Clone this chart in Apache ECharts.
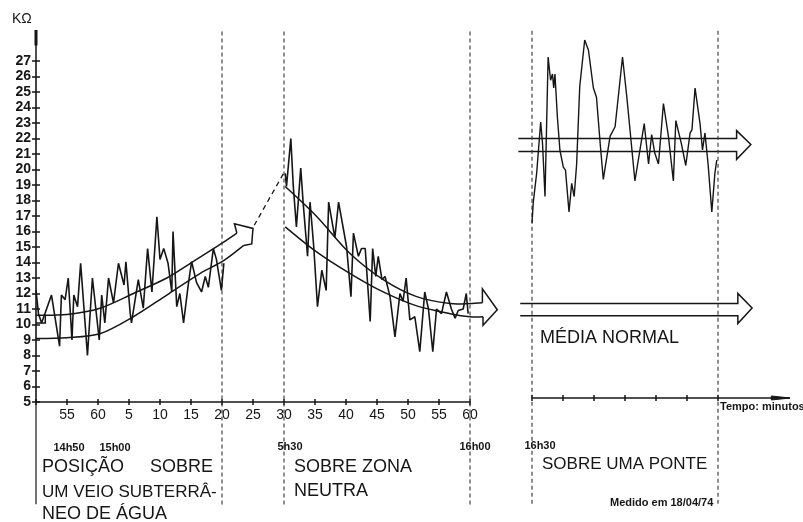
<!DOCTYPE html>
<html><head><meta charset="utf-8">
<script src="https://cdn.jsdelivr.net/npm/echarts@6/dist/echarts.min.js"></script>
<style>html,body{margin:0;padding:0;background:#fff}#c{width:803px;height:522px}</style>
</head><body><div id="c"></div>
<script>
// ---------- DATA ----------
// left axis: minutes after 14h50 ; tick labels every 5 minutes
const xTickLabels = ['', '55', '60', '5', '10', '15', '20', '25', '30', '35', '40', '45', '50', '55', '60'];
// Panel 1 : over an underground water vein (14h50 - 15h20)
const veinTime = [0,0.4,0.9,2.5,3.8,4.1,4.7,5.2,5.8,6.1,6.7,7.2,8.3,9.1,10.2,10.6,11.1,11.7,12.5,13.3,14.2,14.5,15.2,15.4,16.5,17.3,18.0,18.7,19.5,20.0,20.6,21.3,21.9,22.1,22.7,23.2,23.8,24.6,25.1,25.9,26.7,27.3,27.8,28.6,29.1,29.9,30.3];
const veinKohm = [12.2,10.7,10.1,11.9,8.6,11.9,11.6,13.0,9.0,11.9,11.15,13.95,8.0,13.0,9.0,11.9,10.1,13.0,11.4,13.95,12.55,14.05,10.7,10.1,12.9,11.05,14.9,12.1,16.95,14.2,14.9,13.95,12.1,16.0,11.15,12.0,10.1,12.7,14.05,12.7,12.1,13.1,12.4,14.9,14.2,12.2,13.95];
const veinUpperT = [0,5,10.3,15.7,21.1,24.9,30.2,32.4];
const veinUpperV = [10.6,10.65,11.05,12.0,13.0,13.95,15.3,15.9];
const veinLowerT = [0,5,10.3,15.7,21.1,26.5,30.2,33.5];
const veinLowerV = [9.1,9.15,9.4,10.5,11.9,13.3,14.1,15.1];
const veinHeadT = [32.4,32.0,35.0,34.8,33.5];
const veinHeadV = [15.9,16.5,16.2,15.2,15.1];
const veinTailT = [0,1.5,1.5];
const veinTailV = [10.1,10.1,10.65];
const linkT = [35.2,40.0];
const linkV = [16.4,19.8];
// Panel 2 : neutral zone (15h30 - 16h00)
const neutralTime = [40.2,40.4,41.1,41.5,42.0,42.7,43.1,43.8,44.2,44.8,45.4,46.1,46.8,47.2,48.2,48.8,49.1,50.1,50.8,51.2,52.0,52.5,53.1,53.9,54.3,54.8,55.2,55.8,56.3,57.1,57.9,58.7,59.2,59.7,60.3,61.1,61.9,62.7,63.3,64.0,64.6,65.4,66.2,67.0,67.6,68.1,68.9,69.4,69.7];
const neutralKohm = [19.75,18.9,22.0,18.9,16.3,20.1,17.8,14.4,17.9,15.0,11.15,13.5,12.2,17.9,15.6,17.9,17.9,15.0,11.8,15.9,14.4,14.9,14.9,10.2,14.9,13.1,14.4,12.9,13.1,11.8,9.2,12.0,11.5,13.0,10.3,10.5,8.25,12.1,11.0,8.25,11.0,10.7,12.1,11.0,10.4,10.9,11.0,12.0,10.7];
const neutralUpperT = [40.2,45.2,50.6,56.0,61.4,66.8,70.0,72.0];
const neutralUpperV = [18.9,17.0,14.6,12.9,11.8,11.35,11.35,11.4];
const neutralLowerT = [40.2,45.2,50.6,56.0,61.4,66.8,70.0,72.1];
const neutralLowerV = [16.3,14.7,13.3,12.1,11.2,10.7,10.5,10.5];
const neutralHeadT = [72.0,72.0,74.4,72.1,72.1];
const neutralHeadV = [11.4,12.3,10.95,9.95,10.5];
// Panel 3 : over a bridge (from 16h30), minutes after 16h30
const bridgeTime = [0,0.2,0.75,1.4,1.7,2.1,2.6,3.0,3.3,3.5,3.7,4.1,4.5,5.05,5.4,5.97,6.4,6.8,7.2,7.7,8.5,9.1,9.9,10.4,11.0,11.5,12.6,13.4,14.6,15.3,16.6,18.1,18.8,19.3,19.8,20.4,21.2,22.0,22.8,23.2,24.1,24.8,25.5,25.8,26.3,27.1,27.5,27.9,28.4,29.0,29.5,29.8];
const bridgeKohm = [16.3,17.6,19.5,22.8,21.4,18.0,27.0,25.5,25.9,25.0,25.9,23.1,21.0,19.9,19.7,17.0,18.85,18.0,20.1,25.1,28.1,27.45,25.0,24.4,21.4,19.1,21.9,22.5,27.0,24.4,19.0,22.7,20.1,22.0,20.8,20.1,24.0,21.9,19.0,22.9,21.4,20.0,22.1,22.3,25.0,22.7,21.0,22.1,20.1,17.0,19.5,20.35];
const bridgeArrowT = [-2.2,33.0,33.0,35.3,33.0,33.0,-2.2];
const bridgeArrowV = [21.75,21.75,22.25,21.35,20.4,20.9,20.9];
const normalArrowT = [-1.9,33.2,33.2,35.5,33.2,33.2,-1.9];
const normalArrowV = [11.1,11.1,11.75,10.8,9.8,10.3,10.3];
// dividers (minutes)
const leftDividers = [30, 40, 70];
const rightDividers = [0, 30];
// time axis of the right panel continues to an arrow
const timeAxisEndT = [30, 41.6];
const timeAxisArrowT = [38.6, 41.6, 38.6];
const timeAxisArrowV = [5.13, 5, 4.87];

// ---------- CHART ----------
const INK = '#161616';
const FONT = 'Liberation Sans, Arial, sans-serif';
const zip = (t, v) => t.map((x, i) => [x, v[i]]);
function noise(t, v, g, w) {
  return { type: 'line', data: zip(t, v), xAxisIndex: g, yAxisIndex: g,
    symbol: 'none', silent: true, animation: false, clip: false,
    lineStyle: { color: INK, width: w } };
}
// polyline drawn through the axes' own scales (api.coord), not clipped to the grid
function path(t, v, g, style, smooth, shapeType) {
  const pts = zip(t, v);
  return {
    type: 'custom', coordinateSystem: 'cartesian2d', xAxisIndex: g, yAxisIndex: g,
    clip: false, silent: true, animation: false, data: pts,
    renderItem: (params, api) => params.dataIndex === 0 ? {
      type: shapeType || 'polyline',
      shape: { points: pts.map(p => api.coord(p)), smooth: smooth || 0 },
      style: Object.assign({ fill: null, stroke: INK, lineWidth: 1.5 }, style || {})
    } : null
  };
}
const series = [];
series.push(noise(veinTime, veinKohm, 0, 1.6));
series.push(noise(neutralTime, neutralKohm, 0, 1.6));
series.push(noise(bridgeTime, bridgeKohm, 1, 1.4));
series.push(path(veinUpperT, veinUpperV, 0, null, 0.3));
series.push(path(veinLowerT, veinLowerV, 0, null, 0.3));
series.push(path(veinHeadT, veinHeadV, 0));
series.push(path(veinTailT, veinTailV, 0));
series.push(path(linkT, linkV, 0, { lineWidth: 1.3, lineDash: [5, 4] }));
series.push(path(neutralUpperT, neutralUpperV, 0, null, 0.3));
series.push(path(neutralLowerT, neutralLowerV, 0, null, 0.3));
series.push(path(neutralHeadT, neutralHeadV, 0));
series.push(path(bridgeArrowT, bridgeArrowV, 1));
series.push(path(normalArrowT, normalArrowV, 1));
const dash = { stroke: '#333', lineWidth: 1.1, lineDash: [4, 3] };
leftDividers.forEach(m => series.push(path([m, m], [28.9, -1.8], 0, dash)));
rightDividers.forEach(m => series.push(path([m, m], [28.7, -1.9], 1, dash)));
// axis line extensions
series.push(path([0, 0], [27, 29], 0, { lineWidth: 1.5 }));
series.push(path([0, 0], [28, 29], 0, { lineWidth: 3 }));
series.push(path([0, 0], [5, -1.6], 0, { lineWidth: 1.2 }));
series.push(path(timeAxisEndT, [5, 5], 1, { lineWidth: 1.5 }));
series.push(path(timeAxisArrowT, timeAxisArrowV, 1, { fill: INK, lineWidth: 1 }, 0, 'polygon'));

const tickStyle = { color: INK, width: 1.5 };
const option = {
  backgroundColor: '#fff',
  animation: false,
  grid: [
    { left: 36, top: 61, width: 434, bottom: 120 },
    { left: 532, top: 26, width: 186, bottom: 124 }
  ],
  xAxis: [
    { type: 'value', gridIndex: 0, position: 'bottom', min: 0, max: 70, interval: 5,
      axisLine: { lineStyle: { color: INK, width: 1.6 } },
      axisTick: { length: 3, lineStyle: tickStyle },
      axisLabel: { margin: 6, color: INK, fontSize: 14, fontFamily: FONT,
        formatter: v => xTickLabels[Math.round(v / 5)] },
      splitLine: { show: false } },
    { type: 'value', gridIndex: 1, position: 'bottom', min: 0, max: 30, interval: 5,
      axisLine: { lineStyle: { color: INK, width: 1.5 } },
      axisTick: { length: 3, lineStyle: tickStyle },
      axisLabel: { show: false }, splitLine: { show: false } },
    { type: 'value', gridIndex: 0, position: 'bottom', min: 0, max: 70, interval: 5,
      axisLine: { show: false, onZero: false }, axisLabel: { show: false }, splitLine: { show: false },
      axisTick: { inside: true, length: 3, lineStyle: tickStyle } },
    { type: 'value', gridIndex: 1, position: 'bottom', min: 0, max: 30, interval: 5,
      axisLine: { show: false, onZero: false }, axisLabel: { show: false }, splitLine: { show: false },
      axisTick: { inside: true, length: 3, lineStyle: tickStyle } }
  ],
  yAxis: [
    { type: 'value', gridIndex: 0, position: 'left', min: 5, max: 27, interval: 1,
      axisLine: { show: true, lineStyle: { color: INK, width: 1.6 } },
      axisTick: { show: true, length: 4, lineStyle: tickStyle },
      axisLabel: { margin: 5, color: INK, fontSize: 14, fontWeight: 'bold', fontFamily: FONT },
      splitLine: { show: false } },
    { type: 'value', gridIndex: 1, min: 5, max: 29, show: false },
    { type: 'value', gridIndex: 0, position: 'left', min: 5, max: 27, interval: 1,
      axisLine: { show: false, onZero: false }, axisLabel: { show: false }, splitLine: { show: false },
      axisTick: { show: true, inside: true, length: 4, lineStyle: tickStyle } }
  ],
  series: series,
  graphic: [
    ['KΩ', 12, 19, '14px', 'normal', 'left'],
    ['14h50', 69, 448, '11px', 'bold', 'center'],
    ['15h00', 115, 448, '11px', 'bold', 'center'],
    ['5h30', 290, 447, '11px', 'bold', 'center'],
    ['16h00', 475, 447, '11px', 'bold', 'center'],
    ['16h30', 540, 446, '11px', 'bold', 'center'],
    ['POSIÇÃO', 42, 467, '18px', 'normal', 'left'],
    ['SOBRE', 150, 467, '18px', 'normal', 'left'],
    ['UM VEIO SUBTERRÂ-', 42, 492, '17px', 'normal', 'left'],
    ['NEO DE ÁGUA', 42, 514, '18px', 'normal', 'left'],
    ['SOBRE ZONA', 294, 467, '18px', 'normal', 'left'],
    ['NEUTRA', 294, 491, '18px', 'normal', 'left'],
    ['SOBRE UMA PONTE', 542, 464, '17px', 'normal', 'left'],
    ['MÉDIA NORMAL', 540, 338, '18px', 'normal', 'left'],
    ['Medido em 18/04/74', 610, 503, '11px', 'bold', 'left'],
    ['Tempo: minutos', 720, 407, '11px', 'bold', 'left']
  ].map(([t, x, y, s, w, a]) => ({
    type: 'text', silent: true,
    style: { text: t, x: x, y: y, font: w + ' ' + s + ' ' + FONT, fill: INK, align: a, verticalAlign: 'middle' }
  }))
};
echarts.init(document.getElementById('c'), null, { renderer: 'canvas' }).setOption(option);
</script>
</body></html>
